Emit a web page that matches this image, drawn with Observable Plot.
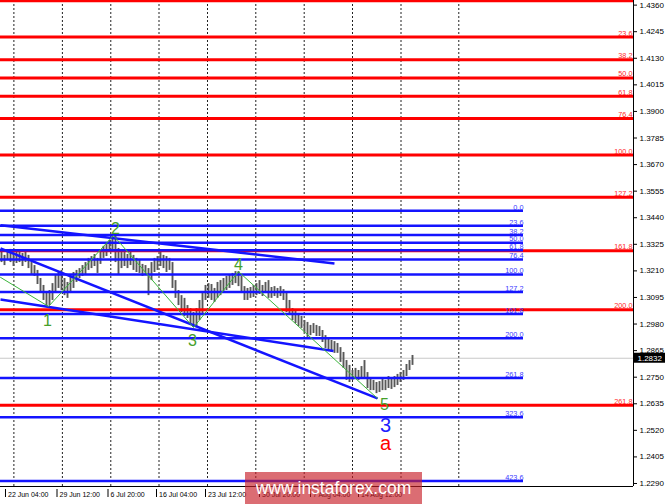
<!DOCTYPE html>
<html><head><meta charset="utf-8">
<script src="https://cdn.jsdelivr.net/npm/d3@7"></script>
<script src="https://cdn.jsdelivr.net/npm/@observablehq/plot@0.6"></script>
<style>
body{margin:0;background:#fff;}
#wrap{position:relative;width:665px;height:504px;overflow:hidden;background:#fff;}
#wm{position:absolute;left:245px;top:472px;width:177px;height:32px;background:rgba(200,30,40,0.65);color:#fff;font:17.5px "Liberation Sans",Arial,sans-serif;line-height:32px;text-align:center;}
</style></head><body><div id="wrap"></div>
<script>
// ---- candle highs / lows (H4 GBP/USD) ----
const highs = [1.3290,1.3277,1.3298,1.3303,1.3281,1.3290,1.3294,1.3285,1.3298,1.3277,
1.3246,1.3233,1.3212,1.3177,1.3147,1.3116,1.3125,1.3155,1.3190,1.3203,
1.3212,1.3177,1.3160,1.3186,1.3203,1.3212,1.3220,1.3233,1.3246,1.3264,
1.3272,1.3281,1.3264,1.3290,1.3316,1.3324,1.3342,1.3359,1.3363,1.3307,
1.3290,1.3298,1.3281,1.3290,1.3277,1.3264,1.3255,1.3238,1.3233,1.3220,
1.3246,1.3264,1.3272,1.3290,1.3277,1.3272,1.3264,1.3246,1.3168,1.3125,
1.3103,1.3091,1.3060,1.3047,1.3030,1.3047,1.3082,1.3116,1.3147,1.3155,
1.3151,1.3134,1.3160,1.3168,1.3177,1.3186,1.3194,1.3199,1.3207,1.3207,
1.3186,1.3142,1.3134,1.3138,1.3147,1.3155,1.3168,1.3147,1.3160,1.3168,
1.3138,1.3142,1.3134,1.3142,1.3129,1.3116,1.3082,1.3047,1.3034,1.3026,
1.3013,1.2995,1.2987,1.2974,1.2982,1.2974,1.2969,1.2952,1.2930,1.2917,
1.2909,1.2904,1.2896,1.2878,1.2857,1.2822,1.2801,1.2779,1.2788,1.2779,
1.2796,1.2822,1.2770,1.2744,1.2736,1.2727,1.2731,1.2744,1.2736,1.2753,
1.2744,1.2753,1.2762,1.2770,1.2779,1.2805,1.2822,1.2844];
const lows = [1.3246,1.3233,1.3255,1.3246,1.3229,1.3242,1.3246,1.3229,1.3246,1.3220,
1.3194,1.3186,1.3151,1.3116,1.3082,1.3056,1.3060,1.3082,1.3116,1.3134,
1.3125,1.3103,1.3091,1.3112,1.3134,1.3160,1.3177,1.3186,1.3194,1.3212,
1.3220,1.3229,1.3199,1.3238,1.3264,1.3272,1.3290,1.3298,1.3246,1.3190,
1.3220,1.3229,1.3220,1.3233,1.3212,1.3203,1.3199,1.3186,1.3190,1.3103,
1.3168,1.3203,1.3212,1.3229,1.3220,1.3203,1.3212,1.3134,1.3091,1.3060,
1.3030,1.3013,1.3004,1.2974,1.2965,1.2969,1.2995,1.3022,1.3082,1.3091,
1.3082,1.3073,1.3091,1.3103,1.3116,1.3125,1.3134,1.3147,1.3155,1.3142,
1.3112,1.3082,1.3082,1.3091,1.3095,1.3103,1.3108,1.3099,1.3112,1.3091,
1.3091,1.3099,1.3091,1.3099,1.3082,1.3030,1.3022,1.2995,1.2982,1.2969,
1.2961,1.2943,1.2922,1.2930,1.2939,1.2926,1.2926,1.2900,1.2874,1.2866,
1.2857,1.2853,1.2853,1.2814,1.2788,1.2736,1.2727,1.2736,1.2744,1.2736,
1.2744,1.2744,1.2701,1.2692,1.2692,1.2679,1.2684,1.2692,1.2692,1.2701,
1.2697,1.2705,1.2714,1.2727,1.2736,1.2753,1.2779,1.2801];
const lastPrice = 1.2832;

// ---- Fibonacci levels ----
const redLabels  = ["0.0","23.6","38.2","50.0","61.8","76.4","100.0","127.2","161.8","200.0","261.8"];
const redPrices  = [1.4379,1.4222,1.4124,1.4045,1.3966,1.3869,1.3711,1.3529,1.3297,1.3042,1.2629];
const blueLabels = ["0.0","23.6","38.2","50.0","61.8","76.4","100.0","127.2","161.8","200.0","261.8","323.6","423.6"];
const bluePrices = [1.3470,1.3405,1.3365,1.3332,1.3299,1.3259,1.3194,1.3119,1.3023,1.2918,1.2747,1.2577,1.2301];
const blueEndX = 174;

// ---- trend lines (bar index, price) ----
const trendX1 = [-0.33,-0.33,-0.33];
const trendY1 = [1.3407,1.3307,1.3086];
const trendX2 = [110.99,125.33,110.67];
const trendY2 = [1.3242,1.2658,1.2863];

// ---- wave zigzag ----
const zigX = [-0.33,15.67,37.33,64,79,125.33];
const zigY = [1.3182,1.3056,1.3363,1.2965,1.3207,1.2658];
const waveText = ["1","2","3","4","5"];
const waveX = [15.33,38,63.67,79,127.67];
const waveY = [1.2995,1.3393,1.2905,1.3238,1.2632];
const bigText = ["3","a"];
const bigX = [128,128];
const bigY = [1.2541,1.2463];
const bigColor = ["#2020ff","#ff0000"];

// ---- axes ----
const yTicks = [1.2290,1.2405,1.2520,1.2635,1.2750,1.2865,1.2980,1.3095,1.3210,1.3325,1.3440,1.3555,1.3670,1.3785,1.3900,1.4015,1.4130,1.4245,1.4360];
const gridX = [4.13,20.3,36.43,52.5,68.67,84.77,100.9,117,133.17,152.43];
const xLabelPos = [1.33,18.5,35.5,51.67,68,86,103,119];
const xLabels = ["22 Jun 04:00","29 Jun 12:00","6 Jul 20:00","16 Jul 04:00","23 Jul 12:00","30 Jul 20:00","7 Aug 04:00","14 Aug 12:00"];
const xMin = -1/3, xMax = 632/3;
const yMin = 1.2277, yMax = 1.4380;

const bars = highs.map((h,i)=>({i, high:h, low:lows[i]}));
const reds = redPrices.map((p,i)=>({p, t:redLabels[i]}));
const blues = bluePrices.map((p,i)=>({p, t:blueLabels[i]}));
const trends = trendX1.map((x,i)=>({x1:x,y1:trendY1[i],x2:trendX2[i],y2:trendY2[i]}));
const zig = zigX.map((x,i)=>({x, y:zigY[i]}));
const waves = waveText.map((t,i)=>({t, x:waveX[i], y:waveY[i]}));
const bigs = bigText.map((t,i)=>({t, x:bigX[i], y:bigY[i], c:bigColor[i]}));
const xl = xLabelPos.map((x,i)=>({x, t:xLabels[i]}));

const chart = Plot.plot({
  width: 665, height: 504,
  marginTop: 0, marginBottom: 18, marginLeft: 0, marginRight: 32,
  x: {domain: [xMin, xMax], axis: null},
  y: {domain: [yMin, yMax], axis: null},
  style: {fontFamily: "'Liberation Sans', Arial, sans-serif", fontSize: "8px", background: "#fff", color: "#000"},
  marks: [
    Plot.ruleX(gridX, {stroke: "#222", strokeWidth: 1, strokeDasharray: "2,2"}),
    Plot.ruleY([lastPrice], {stroke: "#c8c8c8", strokeWidth: 1}),
    Plot.ruleX(bars, {x: "i", y1: "low", y2: "high", stroke: "#585858", strokeWidth: 1.9}),
    Plot.ruleY(reds, {y: "p", stroke: "#ff0000", strokeWidth: 3}),
    Plot.ruleY(blues, {y: "p", x1: xMin, x2: blueEndX, stroke: "#1414ff", strokeWidth: 2.5}),
    Plot.link(trends, {x1: "x1", y1: "y1", x2: "x2", y2: "y2", stroke: "#1414ff", strokeWidth: 2.5}),
    Plot.line(zig, {x: "x", y: "y", stroke: "#3cb43c", strokeWidth: 1}),
    Plot.text(reds.slice(1), {x: xMax, y: "p", text: "t", textAnchor: "end", lineAnchor: "bottom", dx: -1, dy: -1.5, fill: "#ff2a2a", fontSize: 7.3}),
    Plot.text(blues, {x: blueEndX, y: "p", text: "t", textAnchor: "end", lineAnchor: "bottom", dy: -1.2, fill: "#3a3aff", fontSize: 7.3}),
    Plot.text(waves, {x: "x", y: "y", text: "t", fill: "#45a02a", fontSize: 16}),
    Plot.text(bigs, {x: "x", y: "y", text: "t", fill: "c", fontSize: 20}),
    Plot.ruleX([xMax], {stroke: "#000", strokeWidth: 1}),
    Plot.ruleY([yMin], {stroke: "#000", strokeWidth: 1}),
    Plot.axisY({ticks: yTicks, anchor: "right", tickSize: 3, tickPadding: 3, tickFormat: d => d.toFixed(4), fontSize: 8}),
    Plot.ruleX(xl, {x: "x", y1: yMin, y2: yMin, insetTop: 3, insetBottom: -11, stroke: "#000"}),
    Plot.text(xl, {x: "x", y: yMin, text: "t", textAnchor: "start", dx: 2.5, dy: 8, fontSize: 7, fill: "#000"}),
    Plot.rect([lastPrice], {x1: xMax, x2: xMax, y1: d => d, y2: d => d, insetLeft: 1, insetRight: -33, insetTop: -5, insetBottom: -5, fill: "#000"}),
    Plot.text([lastPrice], {x: xMax, y: d => d, text: d => d.toFixed(4), textAnchor: "start", dx: 4, fill: "#fff", fontSize: 8})
  ]
});
const wrap = document.getElementById("wrap");
wrap.appendChild(chart);
const wm = document.createElement("div");
wm.id = "wm";
wm.textContent = "www.instaforex.com";
wrap.appendChild(wm);
</script>
</body></html>
